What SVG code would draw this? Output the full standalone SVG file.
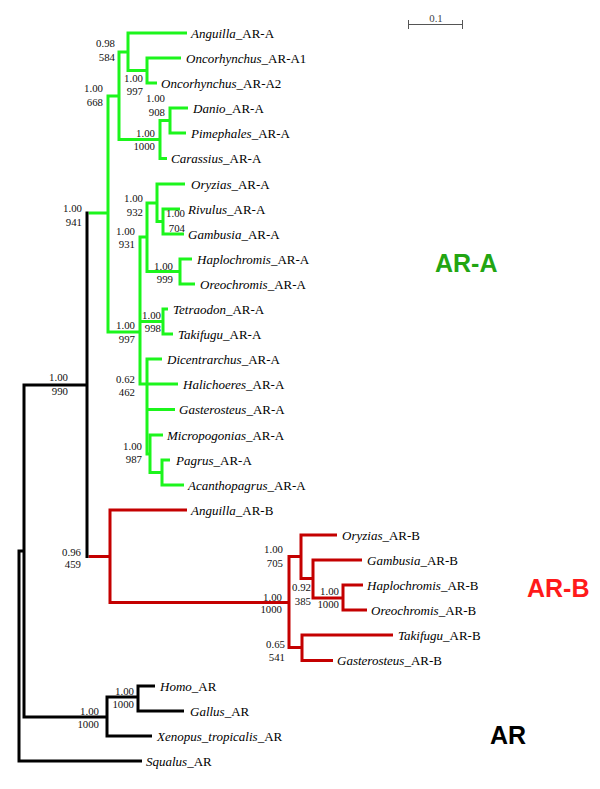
<svg xmlns="http://www.w3.org/2000/svg" width="600" height="789" viewBox="0 0 600 789">
<style>
.g{fill:none;stroke:#1cf51c;stroke-width:3}
.r{fill:none;stroke:#c40000;stroke-width:3}
.k{fill:none;stroke:#000;stroke-width:3}
.tip{font-family:"Liberation Serif",serif;font-size:13px;fill:#000}
.tip .i{font-style:italic}
.sup{font-family:"Liberation Serif",serif;font-size:10.8px;fill:#111;text-anchor:end}
.clade{font-family:"Liberation Sans",Arial,sans-serif;font-weight:bold;font-size:25px}
.scale{stroke:#555;stroke-width:1;fill:none}
</style>
<rect width="600" height="789" fill="#fff"/>
<g id="connectors">
<path class="g" d="M187 33H128V70.5H147"/>
<path class="g" d="M181 58H147V83H157"/>
<path class="g" d="M128 52H119V139.5H160"/>
<path class="g" d="M188 108H170V133H186"/>
<path class="g" d="M170 120.5H160V158.5H167"/>
<path class="g" d="M119 96H108V332H140"/>
<path class="g" d="M88.5 213H108"/>
<path class="g" d="M185 184H157V221.5H163"/>
<path class="g" d="M180 209H163V234H184"/>
<path class="g" d="M157 203H147V271.5H180"/>
<path class="g" d="M192 259H180V284H195"/>
<path class="g" d="M147 237H140V384H178"/>
<path class="g" d="M140 321.5H163"/>
<path class="g" d="M168 309H163V334H173"/>
<path class="g" d="M162 359H147V454H150"/>
<path class="g" d="M175 409.5H147"/>
<path class="g" d="M163 435H150V472.5H162"/>
<path class="g" d="M170 460H162V485H184"/>
<path class="r" d="M88.5 556.5H110"/>
<path class="r" d="M187 510H110V602.5H289"/>
<path class="r" d="M301 556.5H289V647.5H302"/>
<path class="r" d="M337 535H301V578.5H313"/>
<path class="r" d="M362 560H313V598H343"/>
<path class="r" d="M363 585H343V610H367"/>
<path class="r" d="M393 635H302V660.5H333"/>
<path class="k" d="M87 211.5V558"/>
<path class="k" d="M87 385H24V717H107"/>
<path class="k" d="M24 551H19V761H142"/>
<path class="k" d="M152 736H107V697H138"/>
<path class="k" d="M155 686H138V711H184"/>
</g>
<g id="tips" class="tip">
<g id="n-anguilla-a"><text x="191" y="37.5"><tspan class="i">Anguilla</tspan>_AR-A</text></g>
<g id="n-onco-a1"><text x="186" y="62.5"><tspan class="i">Oncorhynchus</tspan>_AR-A1</text></g>
<g id="n-onco-a2"><text x="161" y="87.5"><tspan class="i">Oncorhynchus</tspan>_AR-A2</text></g>
<g id="n-danio-a"><text x="193" y="112.5"><tspan class="i">Danio</tspan>_AR-A</text></g>
<g id="n-pimephales-a"><text x="191" y="137.5"><tspan class="i">Pimephales</tspan>_AR-A</text></g>
<g id="n-carassius-a"><text x="171" y="163"><tspan class="i">Carassius</tspan>_AR-A</text></g>
<g id="n-oryzias-a"><text x="191" y="188.5"><tspan class="i">Oryzias</tspan>_AR-A</text></g>
<g id="n-rivulus-a"><text x="188" y="213.5"><tspan class="i">Rivulus</tspan>_AR-A</text></g>
<g id="n-gambusia-a"><text x="188" y="238.5"><tspan class="i">Gambusia</tspan>_AR-A</text></g>
<g id="n-haplo-a"><text x="197" y="263.5"><tspan class="i">Haplochromis</tspan>_AR-A</text></g>
<g id="n-oreo-a"><text x="200" y="288.5"><tspan class="i">Oreochromis</tspan>_AR-A</text></g>
<g id="n-tetraodon-a"><text x="173" y="313.5"><tspan class="i">Tetraodon</tspan>_AR-A</text></g>
<g id="n-takifugu-a"><text x="178" y="338.5"><tspan class="i">Takifugu</tspan>_AR-A</text></g>
<g id="n-dicentrarchus-a"><text x="167" y="363.5"><tspan class="i">Dicentrarchus</tspan>_AR-A</text></g>
<g id="n-halichoeres-a"><text x="183" y="388.5"><tspan class="i">Halichoeres</tspan>_AR-A</text></g>
<g id="n-gasterosteus-a"><text x="179" y="414"><tspan class="i">Gasterosteus</tspan>_AR-A</text></g>
<g id="n-micropogonias-a"><text x="167" y="439.5"><tspan class="i">Micropogonias</tspan>_AR-A</text></g>
<g id="n-pagrus-a"><text x="176" y="464.5"><tspan class="i">Pagrus</tspan>_AR-A</text></g>
<g id="n-acanthopagrus-a"><text x="188" y="489.5"><tspan class="i">Acanthopagrus</tspan>_AR-A</text></g>
<g id="n-anguilla-b"><text x="191" y="514.5"><tspan class="i">Anguilla</tspan>_AR-B</text></g>
<g id="n-oryzias-b"><text x="342" y="539.5"><tspan class="i">Oryzias</tspan>_AR-B</text></g>
<g id="n-gambusia-b"><text x="367" y="564.5"><tspan class="i">Gambusia</tspan>_AR-B</text></g>
<g id="n-haplo-b"><text x="367" y="589.5"><tspan class="i">Haplochromis</tspan>_AR-B</text></g>
<g id="n-oreo-b"><text x="371" y="614.5"><tspan class="i">Oreochromis</tspan>_AR-B</text></g>
<g id="n-takifugu-b"><text x="398" y="639.5"><tspan class="i">Takifugu</tspan>_AR-B</text></g>
<g id="n-gasterosteus-b"><text x="337" y="665"><tspan class="i">Gasterosteus</tspan>_AR-B</text></g>
<g id="n-homo"><text x="160" y="690.5"><tspan class="i">Homo</tspan>_AR</text></g>
<g id="n-gallus"><text x="190" y="715.5"><tspan class="i">Gallus</tspan>_AR</text></g>
<g id="n-xenopus"><text x="157" y="740.5"><tspan class="i">Xenopus_tropicalis</tspan>_AR</text></g>
<g id="n-squalus"><text x="146" y="765.5"><tspan class="i">Squalus</tspan>_AR</text></g>
</g>
<g id="supports" class="sup">
<g id="s1"><text x="115" y="46.7">0.98</text><text x="115" y="60.7">584</text></g>
<g id="s2"><text x="143" y="81.7">1.00</text><text x="143" y="94.7">997</text></g>
<g id="s3"><text x="103" y="91.7">1.00</text><text x="103" y="105.7">668</text></g>
<g id="s4"><text x="165" y="101.7">1.00</text><text x="165" y="115.7">908</text></g>
<g id="s5"><text x="155" y="136.7">1.00</text><text x="155" y="149.7">1000</text></g>
<g id="s6"><text x="143" y="201.7">1.00</text><text x="143" y="215.7">932</text></g>
<g id="s7"><text x="185" y="216.7">1.00</text><text x="185" y="231.7">704</text></g>
<g id="s8"><text x="135" y="234.7">1.00</text><text x="135" y="247.7">931</text></g>
<g id="s9"><text x="173" y="269.7">1.00</text><text x="173" y="282.7">999</text></g>
<g id="s10"><text x="161" y="318.7">1.00</text><text x="161" y="331.7">998</text></g>
<g id="s11"><text x="135" y="328.7">1.00</text><text x="135" y="342.7">997</text></g>
<g id="s12"><text x="135" y="382.7">0.62</text><text x="135" y="395.7">462</text></g>
<g id="s13"><text x="142" y="449.7">1.00</text><text x="142" y="462.7">987</text></g>
<g id="s14"><text x="82" y="211.7">1.00</text><text x="82" y="225.7">941</text></g>
<g id="s15"><text x="68" y="380.7">1.00</text><text x="68" y="394.7">990</text></g>
<g id="s16"><text x="81" y="555.7">0.96</text><text x="81" y="567.7">459</text></g>
<g id="s17"><text x="283" y="552.7">1.00</text><text x="283" y="566.7">705</text></g>
<g id="s18"><text x="282" y="600.7">1.00</text><text x="282" y="612.7">1000</text></g>
<g id="s19"><text x="311" y="590.7">0.92</text><text x="311" y="604.7">385</text></g>
<g id="s20"><text x="339" y="594.7">1.00</text><text x="339" y="607.7">1000</text></g>
<g id="s21"><text x="285" y="647.7">0.65</text><text x="285" y="660.7">541</text></g>
<g id="s22"><text x="134" y="694.7">1.00</text><text x="134" y="707.7">1000</text></g>
<g id="s23"><text x="99" y="714.7">1.00</text><text x="99" y="727.7">1000</text></g>
</g>
<g id="clade-labels" class="clade">
<text x="435" y="272" fill="#22a512">AR-A</text>
<text x="527" y="597" fill="#ff1a1a">AR-B</text>
<text x="490" y="744" fill="#000">AR</text>
</g>
<g id="scalebar">
<path class="scale" d="M408 24.5H463M408.5 20V29M462.5 20V29"/>
<text x="436" y="22" text-anchor="middle" font-family="Liberation Serif, serif" font-size="10.8" fill="#444">0.1</text>
</g>
</svg>
